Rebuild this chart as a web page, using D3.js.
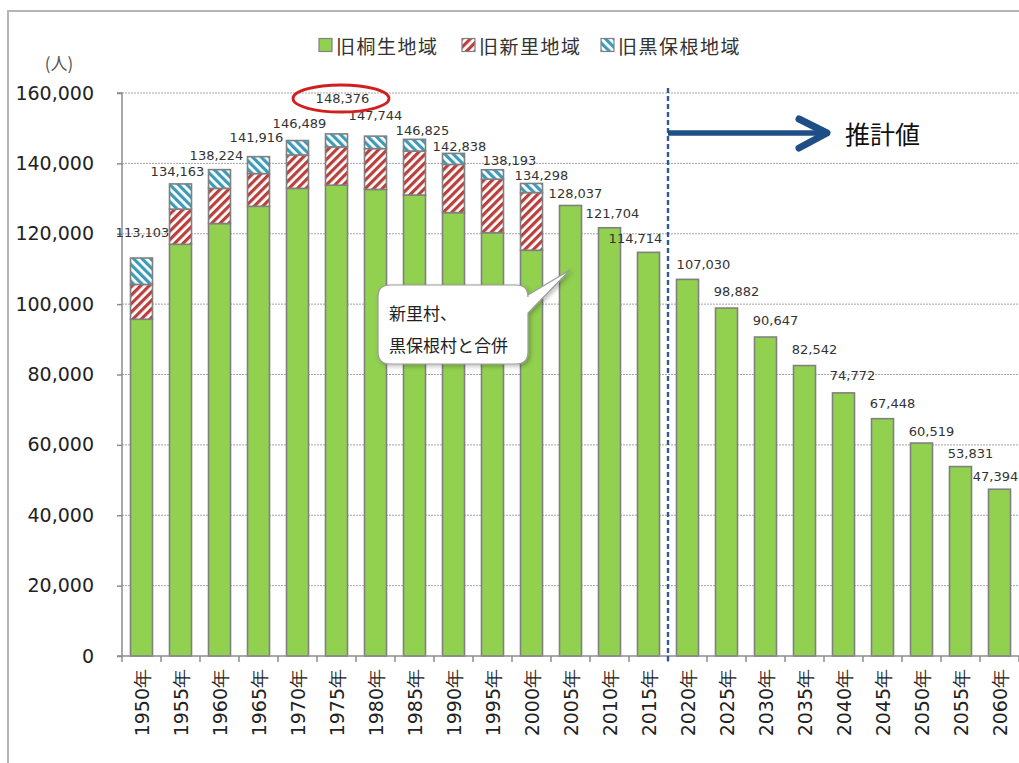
<!DOCTYPE html>
<html>
<head>
<meta charset="utf-8">
<script src="https://cdn.jsdelivr.net/npm/d3@7"></script>
<style>
  body { margin: 0; background: #fff; }
  svg { display: block; }
</style>
</head>
<body>
<div id="chart"></div>
<script>
// data (persons)
const years = ['1950','1955','1960','1965','1970','1975','1980','1985','1990','1995','2000','2005',
	'2010','2015','2020','2025','2030','2035','2040','2045','2050','2055','2060'];
const kiryu = [95700,117000,122900,127800,132900,133800,132600,131000,126000,120300,115300,128037,
	121704,114714,107030,98882,90647,82542,74772,67448,60519,53831,47394];
const niisato = [9900,10000,10000,9300,9500,10900,11600,12500,13700,15200,16400,0,0,0,0,0,0,0,0,0,0,0,0];
const kurohone = [7503,7163,5324,4816,4089,3676,3544,3325,3138,2693,2598,0,0,0,0,0,0,0,0,0,0,0,0];
const totals = [113103,134163,138224,141916,146489,148376,147744,146825,142838,138193,134298,128037,
	121704,114714,107030,98882,90647,82542,74772,67448,60519,53831,47394];
const seriesNames = ['旧桐生地域', '旧新里地域', '旧黒保根地域'];
const yTicks = [0,20000,40000,60000,80000,100000,120000,140000,160000];

// hand placement of the value labels (dx, dy from bar top)
const labelShift = [[1,-26],[-3,-12],[-3,-14],[-2,-19],[2,-17],[6,-35],[0,-21],[8,-9],[6,-7],[17,-9],[10,-8],
	[5,-12],[3,-14],[-13,-14],[16,-15],[10,-17],[10,-17],[10,-16],[9,-17],[10,-15],[10,-12],[10,-13],[-4,-13]];

const W = 1019, H = 763;
const numFont = '"DejaVu Sans", Verdana, sans-serif';
const jpFont = '"Noto Sans CJK JP", "Noto Sans", sans-serif';

const svg = d3.select('#chart').append('svg')
	.attr('width', W).attr('height', H);

const defs = svg.append('defs');
const makeHatch = (id, color, angle) => {
	const p = defs.append('pattern')
		.attr('id', id)
		.attr('patternUnits', 'userSpaceOnUse')
		.attr('width', 6).attr('height', 6)
		.attr('patternTransform', `rotate(${angle})`);
	p.append('rect').attr('width', 6).attr('height', 6).attr('fill', '#fff');
	p.append('rect').attr('width', 3.2).attr('height', 6).attr('fill', color);
};
makeHatch('hatchRed', '#b8403d', 45);
makeHatch('hatchBlue', '#3d9bb8', -45);
const fills = ['#92d050', 'url(#hatchRed)', 'url(#hatchBlue)'];

const shadow = defs.append('filter').attr('id', 'shadow')
	.attr('x', '-10%').attr('y', '-10%').attr('width', '130%').attr('height', '140%');
shadow.append('feDropShadow').attr('dx', 2).attr('dy', 2).attr('stdDeviation', 2)
	.attr('flood-color', '#000').attr('flood-opacity', 0.25);

// frame
svg.append('path')
	.attr('d', `M8,${H} L8,11 L${W},11`)
	.attr('fill', 'none').attr('stroke', '#b5b5b5').attr('stroke-width', 2);

// scales
const x = d3.scaleBand().domain(years).range([122, 1019]).padding(0);
const y = d3.scaleLinear().domain([0, 160000]).range([656, 93]);
const barW = 22;

// grid
svg.append('g').selectAll('line')
	.data(yTicks.slice(1))
	.enter().append('line')
		.attr('x1', 122).attr('x2', W)
		.attr('y1', d => y(d)).attr('y2', d => y(d))
		.attr('stroke', '#a6a6a6').attr('stroke-width', 1)
		.attr('stroke-dasharray', '2,1');

// y axis
const yAxis = d3.axisLeft(y).tickValues(yTicks).tickFormat(d3.format(',')).tickSize(5).tickPadding(23);
const gy = svg.append('g').attr('transform', 'translate(122,0)').call(yAxis);
gy.select('.domain').attr('stroke', '#8c8c8c').attr('stroke-width', 1.5).attr('d', `M-5,${y(160000)}H0V${y(0)}`);
gy.selectAll('.tick line').attr('stroke', '#8c8c8c').attr('stroke-width', 1.5);
gy.selectAll('.tick text')
	.attr('font-family', numFont).attr('font-size', 19).attr('fill', '#222');

svg.append('text')
	.attr('x', 59).attr('y', 62)
	.attr('text-anchor', 'middle').attr('dominant-baseline', 'central')
	.attr('font-family', jpFont).attr('font-size', 17).attr('fill', '#555')
	.text('(人)');

// stacked bars
const rows = years.map((yr, i) => ({ year: yr, a: kiryu[i], b: niisato[i], c: kurohone[i] }));
const stack = d3.stack().keys(['a', 'b', 'c'])(rows);

svg.append('g').selectAll('g')
	.data(stack)
	.enter().append('g')
		.attr('fill', (d, i) => fills[i])
	.selectAll('rect')
	.data(d => d.filter(s => s[1] > s[0]))
	.enter().append('rect')
		.attr('x', d => x(d.data.year) + (x.step() - barW) / 2)
		.attr('y', d => y(d[1]))
		.attr('width', barW)
		.attr('height', d => y(d[0]) - y(d[1]))
		.attr('stroke', '#808080').attr('stroke-width', 1.6);

// x axis
const gx = svg.append('g');
gx.append('line')
	.attr('x1', 117).attr('x2', W).attr('y1', y(0)).attr('y2', y(0))
	.attr('stroke', '#8c8c8c').attr('stroke-width', 1.5);
gx.selectAll('line.tk')
	.data(years.concat(['end']))
	.enter().append('line')
		.attr('class', 'tk')
		.attr('x1', (d, i) => 122 + i * x.step()).attr('x2', (d, i) => 122 + i * x.step())
		.attr('y1', y(0)).attr('y2', y(0) + 6)
		.attr('stroke', '#8c8c8c').attr('stroke-width', 1.5);
gx.selectAll('text')
	.data(years)
	.enter().append('text')
		.attr('transform', d => `translate(${x(d) + x.step() / 2},669) rotate(-90)`)
		.attr('text-anchor', 'end').attr('dominant-baseline', 'central')
		.attr('font-family', numFont).attr('font-size', 19).attr('fill', '#222')
		.text(d => d + '年');

// value labels
svg.append('g').selectAll('text')
	.data(totals)
	.enter().append('text')
		.attr('x', (d, i) => x(years[i]) + x.step() / 2 + labelShift[i][0])
		.attr('y', (d, i) => y(d) + labelShift[i][1])
		.attr('text-anchor', 'middle').attr('dominant-baseline', 'central')
		.attr('font-family', numFont).attr('font-size', 13).attr('fill', '#333')
		.text(d => d3.format(',')(d));

// highlight ring around peak
svg.append('ellipse')
	.attr('cx', 341).attr('cy', 98.5).attr('rx', 48).attr('ry', 13.5)
	.attr('fill', 'none').attr('stroke', '#d01f1f').attr('stroke-width', 2.8);

// estimate divider + arrow
const divX = x('2020');
svg.append('line')
	.attr('x1', divX).attr('x2', divX).attr('y1', 88).attr('y2', 664)
	.attr('stroke', '#2d5a96').attr('stroke-width', 2.4).attr('stroke-dasharray', '5,3');
svg.append('line')
	.attr('x1', divX).attr('x2', 824).attr('y1', 133).attr('y2', 133)
	.attr('stroke', '#1f4e86').attr('stroke-width', 5.5);
svg.append('path')
	.attr('d', 'M799,119 L827,133 L799,148')
	.attr('fill', 'none').attr('stroke', '#1f4e86').attr('stroke-width', 7)
	.attr('stroke-linecap', 'round').attr('stroke-linejoin', 'round');
svg.append('text')
	.attr('x', 845).attr('y', 133)
	.attr('dominant-baseline', 'central')
	.attr('font-family', jpFont).attr('font-size', 25).attr('fill', '#111')
	.text('推計値');

// callout
const cl = 378, cr = 528, ct = 285, cb = 364, r = 12;
svg.append('path')
	.attr('d', `M${cl + r},${ct} H${cr - r} Q${cr},${ct} ${cr},${ct + r} L${cr},${ct + 10} L570,270 L${cr},${ct + 28}
		V${cb - r} Q${cr},${cb} ${cr - r},${cb} H${cl + r} Q${cl},${cb} ${cl},${cb - r} V${ct + r} Q${cl},${ct} ${cl + r},${ct} Z`)
	.attr('fill', '#fff').attr('stroke', '#9a9a9a').attr('stroke-width', 1.2)
	.attr('filter', 'url(#shadow)');
svg.append('text')
	.attr('x', 389).attr('y', 312).attr('dominant-baseline', 'central')
	.attr('font-family', jpFont).attr('font-size', 17).attr('fill', '#222')
	.text('新里村、');
svg.append('text')
	.attr('x', 389).attr('y', 344).attr('dominant-baseline', 'central')
	.attr('font-family', jpFont).attr('font-size', 17).attr('fill', '#222')
	.text('黒保根村と合併');

// legend
const legX = [319, 462, 601];
const leg = svg.append('g').selectAll('g')
	.data(seriesNames)
	.enter().append('g')
		.attr('transform', (d, i) => `translate(${legX[i]},45)`);
leg.append('rect')
	.attr('x', 0).attr('y', -6.5).attr('width', 13).attr('height', 13)
	.attr('fill', (d, i) => fills[i]).attr('stroke', '#808080').attr('stroke-width', 1.2);
leg.append('text')
	.attr('x', 17).attr('y', 0).attr('dominant-baseline', 'central')
	.attr('font-family', jpFont).attr('font-size', 19).attr('letter-spacing', 1.5).attr('fill', '#333')
	.text(d => d);
</script>
</body>
</html>
